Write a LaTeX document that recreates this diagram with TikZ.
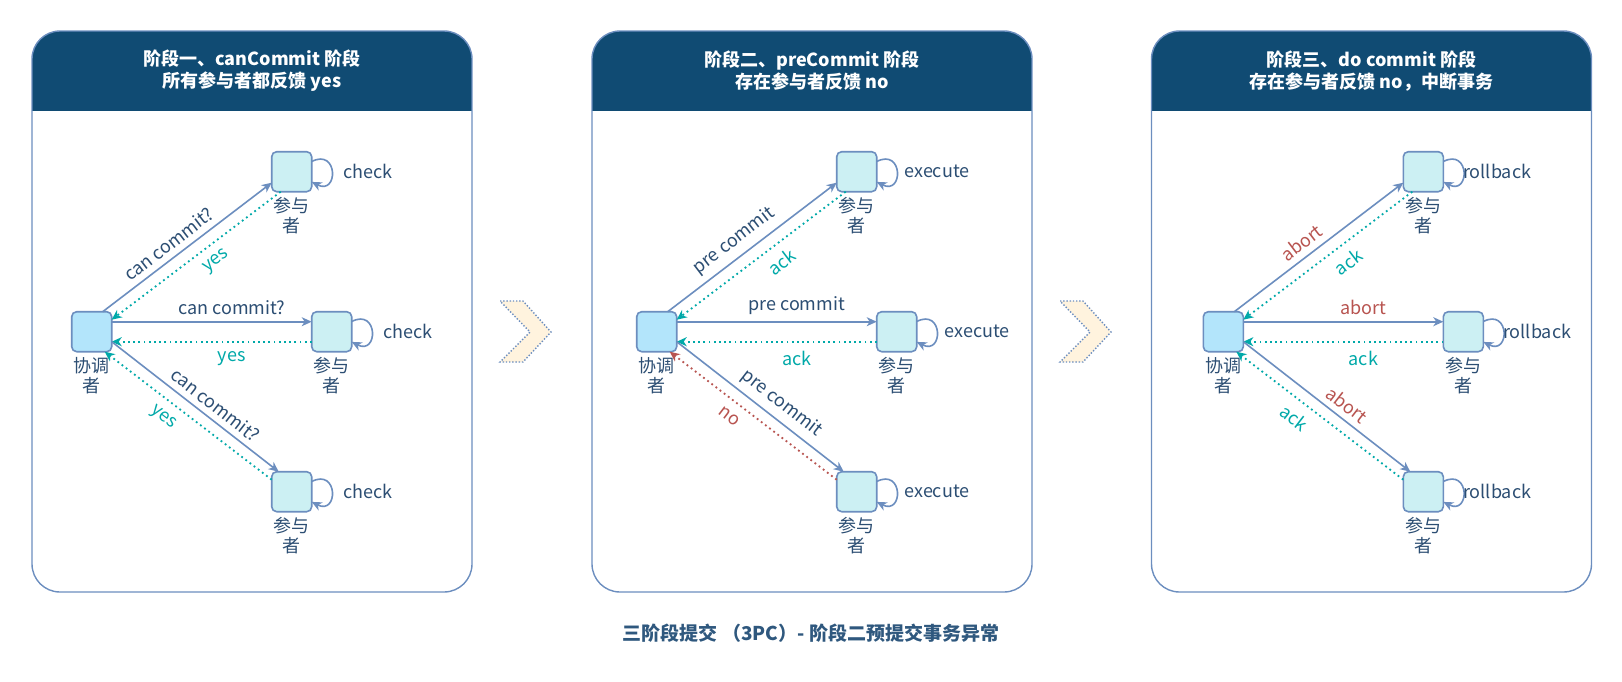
\documentclass[tikz,border=0pt]{standalone}
\usepackage{fontspec}
\setmainfont{Noto Sans CJK SC}
\usepackage{tikz}
\usetikzlibrary{arrows.meta,positioning}

\definecolor{lineblue}{HTML}{6C8EBF}
\definecolor{hdrblue}{HTML}{104B73}
\definecolor{txtblue}{HTML}{2C4E73}
\definecolor{ackteal}{HTML}{00A9A9}
\definecolor{nored}{HTML}{B85450}
\definecolor{coordfill}{HTML}{B3E5FB}
\definecolor{partfill}{HTML}{CCF0F3}
\definecolor{chevfill}{HTML}{FFF3DE}
\definecolor{titleblue}{HTML}{2F587E}

\begin{document}
\begin{tikzpicture}[>={Stealth[length=10pt,width=9pt,inset=3pt]},x=1pt,y=1pt,
    panel/.style={draw=lineblue,line width=1.4pt,fill=white,rounded corners=28pt,
      minimum width=440pt,minimum height=561pt,
      path picture={\fill[hdrblue,sharp corners] (path picture bounding box.north west)
        rectangle ([yshift=-80pt]path picture bounding box.north east);}},
    hdr/.style={text=white,font=\bfseries\fontsize{18}{22}\selectfont,align=center},
    coord/.style={draw=lineblue,line width=1.6pt,fill=coordfill,rounded corners=5pt,
      minimum size=40pt,inner sep=0pt,outer sep=0pt},
    part/.style={coord,fill=partfill},
    who/.style={text=txtblue,font=\fontsize{18}{20}\selectfont,align=center,inner sep=0pt},
    msg/.style={->,draw=lineblue,line width=1.6pt},
    rep/.style={->,draw=ackteal,line width=1.8pt,dash pattern=on 1.8pt off 3.4pt},
    repno/.style={rep,draw=nored},
    lbl/.style={font=\fontsize{18}{20}\selectfont,text=txtblue,inner sep=6pt},
    acklbl/.style={lbl,text=ackteal,inner sep=9pt},
    redlbl/.style={lbl,text=nored},
    nolbl/.style={acklbl,text=nored},
    selfloop/.style={->,draw=lineblue,line width=1.6pt,
      to path={(\tikztostart.27) .. controls +(27:30pt) and +(-27:30pt) .. (\tikztostart.-27) \tikztonodes}},
    looptxt/.style={lbl,right,inner sep=0pt},
    chev/.style={fill=chevfill,draw=lineblue,line width=1.4pt,dash pattern=on 1.4pt off 1.8pt},
    ttl/.style={text=titleblue,font=\bfseries\fontsize{19}{22}\selectfont}]

  \useasboundingbox (0,0) rectangle (1622,-681);

  \node[panel] (pan_1) at (252,-311.5) {};
  \node[panel] (pan_2) at (812,-311.5) {};
  \node[panel] (pan_3) at (1371.5,-311.5) {};
  \node[hdr] (hd_1) at (252,-71) {阶段一、canCommit 阶段\\所有参与者都反馈 yes};
  \node[hdr] (hd_2) at (812,-71) {阶段二、preCommit 阶段\\存在参与者反馈 no};
  \node[hdr] (hd_3) at (1371.5,-71) {阶段三、do commit 阶段\\存在参与者反馈 no，中断事务};

  \filldraw[chev] (500,-301) -- (523,-301) -- (551,-332) -- (523,-362) -- (500,-362) -- (530,-332) -- cycle;
  \filldraw[chev] (1060,-301) -- (1083,-301) -- (1111,-332) -- (1083,-362) -- (1060,-362) -- (1090,-332) -- cycle;

  % canCommit
  \node[coord] (c_1) at (91.7,-331.7) {};
  \node[part,above right=120pt and 160pt of c_1] (pt_1) {};
  \node[part,right=200pt of c_1] (pm_1) {};
  \node[part,below right=120pt and 160pt of c_1] (pb_1) {};
  \node[who,below=5pt of c_1] (cw_1) {协调\\者};
  \node[who,below=5pt of pt_1] (ptw_1) {参与\\者};
  \node[who,below=5pt of pm_1] (pmw_1) {参与\\者};
  \node[who,below=5pt of pb_1] (pbw_1) {参与\\者};

  \draw[msg] ([xshift=11pt]c_1.north) -- node[lbl,sloped,above,pos=.44] {can commit?} ([yshift=-11pt]pt_1.west);
  \draw[rep] ([xshift=-11pt]pt_1.south) -- node[acklbl,sloped,below,pos=.44] {yes} ([yshift=12pt]c_1.east);
  \draw[msg] ([yshift=10pt]c_1.east) -- node[lbl,above,pos=.6] {can commit?} ([yshift=10pt]pm_1.west);
  \draw[rep] ([yshift=-10pt]pm_1.west) -- node[acklbl,below,pos=.4] {yes} ([yshift=-10pt]c_1.east);
  \draw[msg] ([yshift=-10pt]c_1.east) -- node[lbl,sloped,above,pos=.57] {can commit?} ([xshift=-13pt]pb_1.north);
  \draw[rep] ([yshift=12pt]pb_1.west) -- node[acklbl,sloped,below,pos=.59] {yes} ([xshift=13pt]c_1.south);
  \path (pt_1) edge[selfloop] node[looptxt,xshift=11pt] {check} (pt_1)
        (pm_1) edge[selfloop] node[looptxt,xshift=11pt] {check} (pm_1)
        (pb_1) edge[selfloop] node[looptxt,xshift=11pt] {check} (pb_1);

  % preCommit
  \node[coord] (c_2) at (656.7,-331.7) {};
  \node[part,above right=120pt and 160pt of c_2] (pt_2) {};
  \node[part,right=200pt of c_2] (pm_2) {};
  \node[part,below right=120pt and 160pt of c_2] (pb_2) {};
  \node[who,below=5pt of c_2] (cw_2) {协调\\者};
  \node[who,below=5pt of pt_2] (ptw_2) {参与\\者};
  \node[who,below=5pt of pm_2] (pmw_2) {参与\\者};
  \node[who,below=5pt of pb_2] (pbw_2) {参与\\者};

  \draw[msg] ([xshift=11pt]c_2.north) -- node[lbl,sloped,above,pos=.45] {pre commit} ([yshift=-11pt]pt_2.west);
  \draw[rep] ([xshift=-11pt]pt_2.south) -- node[acklbl,sloped,below,pos=.44] {ack} ([yshift=12pt]c_2.east);
  \draw[msg] ([yshift=10pt]c_2.east) -- node[lbl,above,pos=.6] {pre commit} ([yshift=10pt]pm_2.west);
  \draw[rep] ([yshift=-10pt]pm_2.west) -- node[acklbl,below,pos=.4] {ack} ([yshift=-10pt]c_2.east);
  \draw[msg] ([yshift=-10pt]c_2.east) -- node[lbl,sloped,above,pos=.57] {pre commit} ([xshift=-13pt]pb_2.north);
  \draw[repno] ([yshift=12pt]pb_2.west) -- node[nolbl,sloped,below,pos=.59] {no} ([xshift=13pt]c_2.south);
  \path (pt_2) edge[selfloop] node[looptxt,xshift=7pt] {execute} (pt_2)
        (pm_2) edge[selfloop] node[looptxt,xshift=7pt] {execute} (pm_2)
        (pb_2) edge[selfloop] node[looptxt,xshift=7pt] {execute} (pb_2);

  % doCommit
  \node[coord] (c_3) at (1223.3,-331.7) {};
  \node[part,above right=120pt and 160pt of c_3] (pt_3) {};
  \node[part,right=200pt of c_3] (pm_3) {};
  \node[part,below right=120pt and 160pt of c_3] (pb_3) {};
  \node[who,below=5pt of c_3] (cw_3) {协调\\者};
  \node[who,below=5pt of pt_3] (ptw_3) {参与\\者};
  \node[who,below=5pt of pm_3] (pmw_3) {参与\\者};
  \node[who,below=5pt of pb_3] (pbw_3) {参与\\者};

  \draw[msg] ([xshift=11pt]c_3.north) -- node[redlbl,sloped,above,pos=.45] {abort} ([yshift=-11pt]pt_3.west);
  \draw[rep] ([xshift=-11pt]pt_3.south) -- node[acklbl,sloped,below,pos=.44] {ack} ([yshift=12pt]c_3.east);
  \draw[msg] ([yshift=10pt]c_3.east) -- node[redlbl,above,pos=.6] {abort} ([yshift=10pt]pm_3.west);
  \draw[rep] ([yshift=-10pt]pm_3.west) -- node[acklbl,below,pos=.4] {ack} ([yshift=-10pt]c_3.east);
  \draw[msg] ([yshift=-10pt]c_3.east) -- node[redlbl,sloped,above,pos=.57] {abort} ([xshift=-13pt]pb_3.north);
  \draw[rep] ([yshift=12pt]pb_3.west) -- node[acklbl,sloped,below,pos=.59] {ack} ([xshift=13pt]c_3.south);
  \path (pt_3) edge[selfloop] node[looptxt,xshift=-1pt] {rollback} (pt_3)
        (pm_3) edge[selfloop] node[looptxt,xshift=-1pt] {rollback} (pm_3)
        (pb_3) edge[selfloop] node[looptxt,xshift=-1pt] {rollback} (pb_3);

  \node[ttl] (title) at (811,-633) {三阶段提交 （3PC）- 阶段二预提交事务异常};

\end{tikzpicture}
\end{document}
